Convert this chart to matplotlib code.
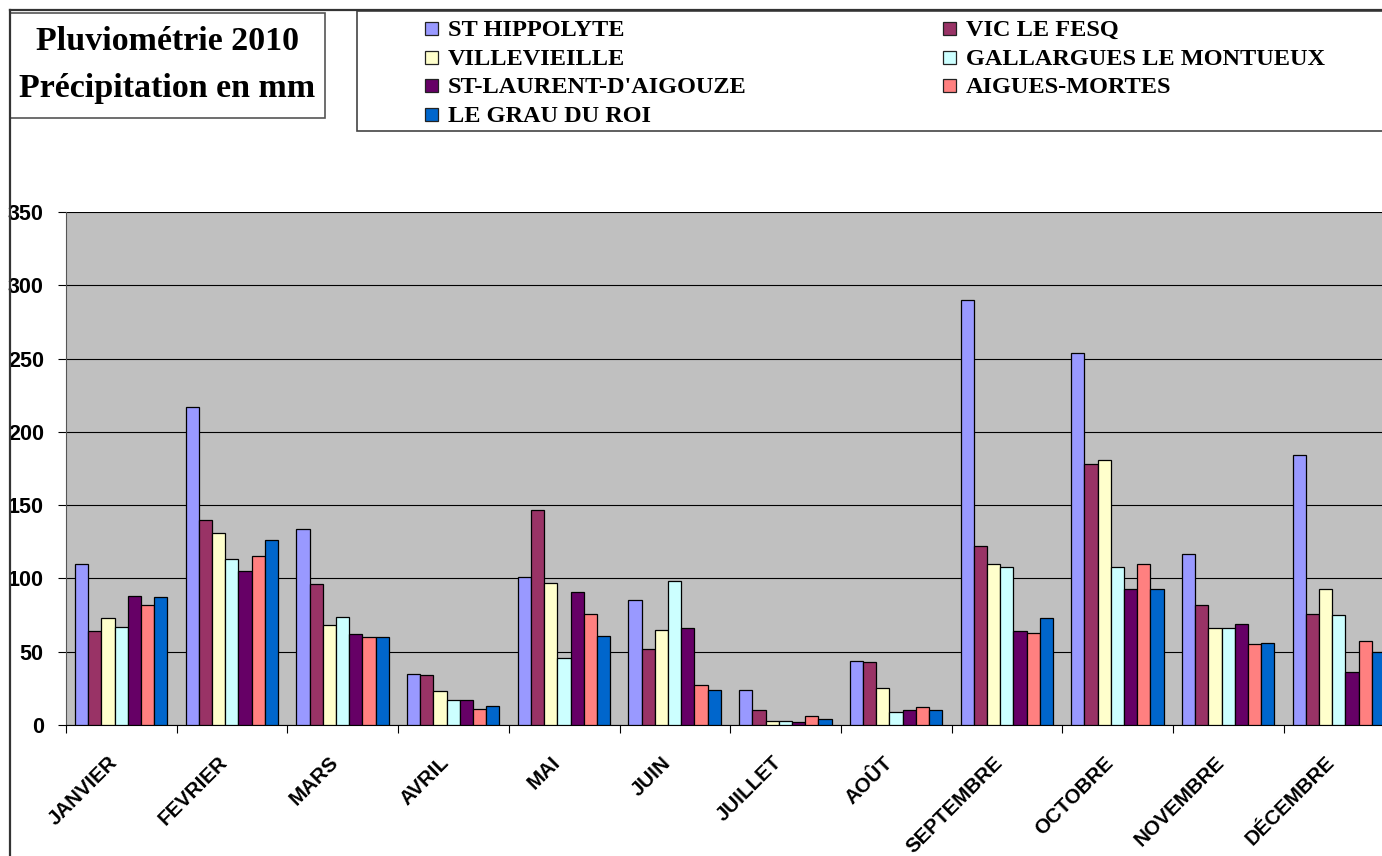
import numpy as np
import matplotlib.pyplot as plt
from matplotlib.patches import Rectangle
from matplotlib.lines import Line2D
from matplotlib.transforms import ScaledTranslation

# monthly rainfall 2010, mm
mois = ["JANVIER", "FEVRIER", "MARS", "AVRIL", "MAI", "JUIN", "JUILLET",
        "AOÛT", "SEPTEMBRE", "OCTOBRE", "NOVEMBRE", "DÉCEMBRE"]

stations = ["ST HIPPOLYTE", "VIC LE FESQ", "VILLEVIEILLE", "GALLARGUES LE MONTUEUX",
            "ST-LAURENT-D'AIGOUZE", "AIGUES-MORTES", "LE GRAU DU ROI"]

st_hippolyte = [110, 217, 134, 35, 101, 85, 24, 44, 290, 254, 117, 184]
vic_le_fesq  = [64, 140, 96, 34, 147, 52, 10, 43, 122, 178, 82, 76]
villevieille = [73, 131, 68, 23, 97, 65, 3, 25, 110, 181, 66, 93]
gallargues   = [67, 113, 74, 17, 46, 98, 3, 9, 108, 108, 66, 75]
st_laurent   = [88, 105, 62, 17, 91, 66, 2, 10, 64, 93, 69, 36]
aigues_mortes = [82, 115, 60, 11, 76, 27, 6, 12, 63, 110, 55, 57]
grau_du_roi  = [87, 126, 60, 13, 61, 24, 4, 10, 73, 93, 56, 50]

series = [st_hippolyte, vic_le_fesq, villevieille, gallargues,
          st_laurent, aigues_mortes, grau_du_roi]
couleurs = ["#9999FF", "#993366", "#FFFFCC", "#CCFFFF", "#660066", "#FF8080", "#0066CC"]

W, H = 1382, 856
fig = plt.figure(figsize=(W / 100, H / 100), dpi=100)

def fx(px):
    return px / W

def fy(py):
    return 1 - py / H

# plot area runs past the right edge of the page
ax = fig.add_axes([fx(66), fy(725), (12 * 110.7) / W, (725 - 212) / H])
ax.set_facecolor("#C0C0C0")

w = 0.1192
x0 = np.arange(12) + 0.081
for j, vals in enumerate(series):
    ax.bar(x0 + j * w, vals, width=w, align="edge", color=couleurs[j],
           edgecolor="black", linewidth=0.9, zorder=3)

ax.set_xlim(0, 12)
ax.set_ylim(0, 350)
ax.set_yticks(np.arange(0, 351, 50))
ax.yaxis.grid(True, color="black", linewidth=0.8, zorder=1)
ax.set_axisbelow(True)
ax.tick_params(axis="y", length=6, width=0.8, pad=10, labelsize=15.5)
for lab in ax.get_yticklabels():
    lab.set_fontfamily("Liberation Sans")
    lab.set_fontweight("bold")

ax.set_xticks(np.arange(13))
ax.set_xticklabels([])
ax.tick_params(axis="x", which="major", length=6, width=0.8, direction="out")
ax.set_xticks(np.arange(12) + 0.5, minor=True)
ax.set_xticklabels(mois, minor=True, rotation=45, ha="right", va="center",
                   rotation_mode="anchor", fontsize=14.8, fontweight="bold",
                   fontfamily="Liberation Sans")
ax.tick_params(axis="x", which="minor", length=0, pad=25)
shift = ScaledTranslation(-0.07, 0, fig.dpi_scale_trans)
for lab in ax.get_xticklabels(minor=True):
    lab.set_transform(lab.get_transform() + shift)

for s in ["top", "right"]:
    ax.spines[s].set_visible(False)
ax.spines["left"].set_color("#555555")
ax.spines["bottom"].set_color("black")

# page frame
fig.add_artist(Line2D([fx(10), 1], [fy(10), fy(10)], color="#333333", linewidth=1.6))
fig.add_artist(Line2D([fx(10), fx(10)], [fy(10), 0], color="#333333", linewidth=1.6))

# title box
fig.add_artist(Rectangle((fx(10), fy(118)), fx(325) - fx(10), fy(13) - fy(118),
                         facecolor="white", edgecolor="#555555", linewidth=1.2))
fig.text(fx(167), fy(50), "Pluviométrie 2010", ha="center", va="baseline",
         fontsize=24.5, fontweight="bold", fontfamily="Liberation Serif")
fig.text(fx(167), fy(97), "Précipitation en mm", ha="center", va="baseline",
         fontsize=24.5, fontweight="bold", fontfamily="Liberation Serif")

# legend box
fig.add_artist(Rectangle((fx(357), fy(131)), 1.1, fy(11) - fy(131),
                         facecolor="white", edgecolor="#444444", linewidth=1.2))
col_x = [425, 943]
row_base = [36, 65, 93, 122]
for i, nom in enumerate(stations):
    cx = col_x[i % 2]
    by = row_base[i // 2]
    fig.add_artist(Rectangle((fx(cx), fy(by - 1)), 13 / W, 13 / H,
                             facecolor=couleurs[i], edgecolor="#222222", linewidth=0.9))
    fig.text(fx(cx + 23), fy(by), nom, ha="left", va="baseline", fontsize=17.5,
             fontweight="bold", fontfamily="Liberation Serif")

fig.savefig("out.png", dpi=100)
